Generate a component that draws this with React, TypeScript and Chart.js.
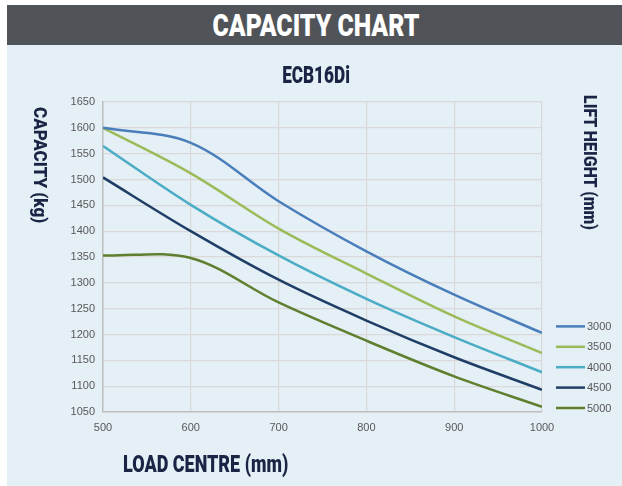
import React, { useEffect, useLayoutEffect, useRef } from "react";
import { Chart, registerables } from "chart.js";

Chart.register(...registerables);

const loadCentres = [500, 600, 700, 800, 900, 1000];
const liftHeights = ["3000", "3500", "4000", "4500", "5000"];
const cap3000 = [1600, 1571, 1458, 1361, 1277, 1203];
const cap3500 = [1600, 1512, 1405, 1318, 1235, 1164];
const cap4000 = [1565, 1451, 1353, 1269, 1195, 1127];
const cap4500 = [1504, 1400, 1306, 1227, 1156, 1093];
const cap5000 = [1353, 1348, 1262, 1188, 1119, 1060];
const seriesValues = [cap3000, cap3500, cap4000, cap4500, cap5000];
const seriesColors = ["#4a7ebb", "#9bbb59", "#4bacc6", "#1f3e66", "#5f7f2f"];

const NAVY = "#1b2444";
const COND = 'Roboto, "Liberation Sans", sans-serif';
const TICK_FONT = '"Liberation Sans", "Noto Sans", sans-serif';

const legendPlugin = {
  id: "sideLegend",
  afterDraw(chart: any) {
    const { ctx, chartArea } = chart;
    const n = chart.data.datasets.length;
    ctx.save();
    chart.data.datasets.forEach((ds: any, i: number) => {
      const y = chartArea.bottom - 4 - (n - 1 - i) * 20.4;
      ctx.strokeStyle = ds.borderColor;
      ctx.lineWidth = 2.5;
      ctx.beginPath();
      ctx.moveTo(chartArea.right + 14, y);
      ctx.lineTo(chartArea.right + 43, y);
      ctx.stroke();
      ctx.fillStyle = "#595959";
      ctx.font = `11px ${TICK_FONT}`;
      ctx.textAlign = "left";
      ctx.textBaseline = "middle";
      ctx.fillText(ds.label, chartArea.right + 45, y + 0.5);
    });
    ctx.restore();
  },
};

type FitProps = {
  text: string;
  target: number;
  x: number;
  y: number;
  size: number;
  color: string;
  mode: "center" | "left" | "vertical";
};

function FitText({ text, target, x, y, size, color, mode }: FitProps) {
  const ref = useRef<HTMLSpanElement | null>(null);
  useLayoutEffect(() => {
    const el = ref.current;
    if (!el) return;
    if (mode === "vertical") {
      const h = el.offsetHeight;
      el.style.transform = `scaleY(${target / h})`;
    } else if (mode === "center") {
      const w = el.offsetWidth;
      el.style.transform = `translateX(-50%) scaleX(${target / w})`;
    } else {
      const w = el.offsetWidth;
      el.style.transform = `scaleX(${target / w})`;
    }
  }, [text, target, mode]);
  const lh = Math.round(size * 1.2);
  const base: React.CSSProperties = {
    position: "absolute",
    whiteSpace: "nowrap",
    fontFamily: COND,
    fontWeight: 900,
    fontSize: size,
    lineHeight: `${lh}px`,
    color,
    display: "inline-block",
  };
  if (mode === "vertical") {
    return (
      <span
        ref={ref}
        style={{ ...base, writingMode: "vertical-rl", left: x - lh / 2, top: y, transformOrigin: "top center" }}
      >
        {text}
      </span>
    );
  }
  return (
    <span
      ref={ref}
      style={{
        ...base,
        left: x,
        top: y - lh / 2,
        transformOrigin: mode === "center" ? "center center" : "left center",
      }}
    >
      {text}
    </span>
  );
}

function CapacityChart() {
  const ref = useRef<HTMLCanvasElement | null>(null);
  useEffect(() => {
    if (!ref.current) return;
    const chart = new Chart(ref.current, {
      type: "line",
      data: {
        datasets: liftHeights.map((label, i) => ({
          label,
          data: loadCentres.map((x, j) => ({ x, y: seriesValues[i][j] })),
          borderColor: seriesColors[i],
          backgroundColor: seriesColors[i],
          borderWidth: 2.5,
          pointRadius: 0,
          tension: 0.34,
          fill: false,
        })),
      },
      options: {
        animation: false,
        responsive: false,
        maintainAspectRatio: false,
        layout: { padding: { left: 0, top: 57, right: 80, bottom: 0 } },
        plugins: {
          legend: { display: false },
          title: { display: false },
          tooltip: { enabled: false },
        },
        scales: {
          x: {
            type: "linear",
            min: 500,
            max: 1000,
            ticks: {
              stepSize: 100,
              padding: 9,
              color: "#595959",
              font: { family: TICK_FONT, size: 11 },
              maxRotation: 0,
              callback: (v: any) => String(v),
            },
            grid: { color: "#d9d9d9", lineWidth: 1.2, drawTicks: false },
            border: { color: "#bfbfbf", width: 1.5 },
            afterFit(scale: any) {
              scale.height = 74;
            },
          },
          y: {
            min: 1050,
            max: 1650,
            ticks: {
              stepSize: 50,
              padding: 8,
              color: "#595959",
              font: { family: TICK_FONT, size: 11 },
              callback: (v: any) => String(v),
            },
            grid: { color: "#d9d9d9", lineWidth: 1.2, drawTicks: false },
            border: { color: "#bfbfbf", width: 1.5 },
            afterFit(scale: any) {
              scale.width = 96;
            },
          },
        },
      },
      plugins: [legendPlugin],
    });
    return () => chart.destroy();
  }, []);
  return (
    <canvas
      ref={ref}
      width={615}
      height={441}
      style={{ position: "absolute", left: 7, top: 45, width: 615, height: 441 }}
    />
  );
}

export default function App() {
  return (
    <div style={{ position: "absolute", left: 0, top: 0, width: 622, height: 486, background: "#ffffff", overflow: "hidden" }}>
      <div style={{ position: "absolute", left: 7, top: 45, width: 615, height: 441, background: "#e4eff6" }} />
      <div style={{ position: "absolute", left: 7, top: 5, width: 615, height: 40, background: "#505458" }} />
      <FitText text="CAPACITY CHART" target={207} x={316} y={25} size={32} color="#ffffff" mode="center" />
      <CapacityChart />
      <FitText text="ECB16Di" target={68} x={316} y={75} size={24} color={NAVY} mode="center" />
      <FitText text="CAPACITY (kg)" target={116} x={40} y={107} size={19} color={NAVY} mode="vertical" />
      <FitText text="LIFT HEIGHT (mm)" target={135} x={590} y={95} size={19} color={NAVY} mode="vertical" />
      <FitText text="LOAD CENTRE (mm)" target={165} x={123} y={465} size={23} color={NAVY} mode="left" />
    </div>
  );
}
